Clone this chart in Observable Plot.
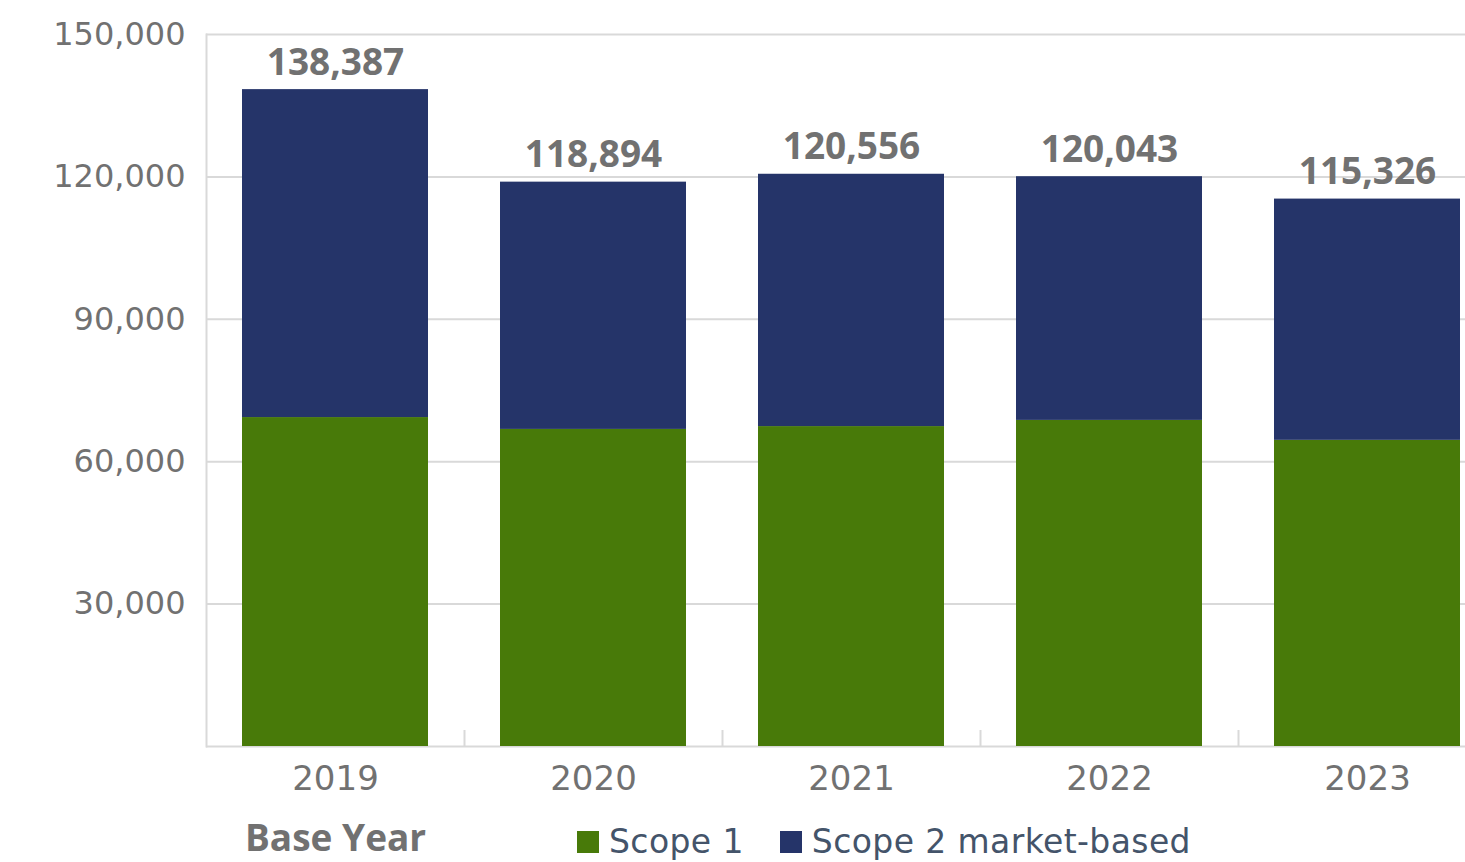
<!DOCTYPE html>
<html>
<head>
<meta charset="utf-8">
<script src="https://cdn.jsdelivr.net/npm/d3@7"></script>
<script src="https://cdn.jsdelivr.net/npm/@observablehq/plot@0.6"></script>
<style>
  html, body { margin: 0; padding: 0; background: #fff; overflow: hidden; }
  #wrap { position: relative; width: 1465px; height: 862px; overflow: hidden; }
  #chart svg { display: block; overflow: hidden; max-width: none !important; height: 810px !important; width: 1497px !important; }
  #baseyear { position: absolute; left: 245px; top: 811px; line-height: normal;
    font-family: "Open Sans", sans-serif; font-weight: 700; font-size: 37px; color: #717171; white-space: nowrap; }
  #legend { position: absolute; left: 577px; top: 822px; height: 40px; display: flex; align-items: center; gap: 36px; }
  .item { display: flex; align-items: center; gap: 10px; font-family: "DejaVu Sans", sans-serif; font-size: 33px;
    letter-spacing: 0.4px; line-height: 40px; color: #44546a; white-space: nowrap; }
  .sw { width: 22px; height: 22px; display: inline-block; }
</style>
</head>
<body>
<div id="wrap">
  <div id="chart"></div>
  <div id="baseyear">Base Year</div>
  <div id="legend"></div>
</div>
<script>
const years = ["2019", "2020", "2021", "2022", "2023"];
const seriesNames = ["Scope 1", "Scope 2 market-based"];
const seriesColors = ["#487a09", "#253469"];
const scope1 = [69300, 66800, 67400, 68700, 64500];
const scope2 = [69087, 52094, 53156, 51343, 50826];
const totals = [138387, 118894, 120556, 120043, 115326];
const yTicks = [30000, 60000, 90000, 120000, 150000];

const rows = [];
years.forEach((yr, i) => {
  rows.push({year: yr, series: seriesNames[0], value: scope1[i]});
  rows.push({year: yr, series: seriesNames[1], value: scope2[i]});
});
const totalRows = years.map((yr, i) => ({year: yr, total: totals[i]}));
const fmt = d3.format(",");

const chart = Plot.plot({
  width: 1497,
  height: 810,
  marginTop: 34,
  marginBottom: 64,
  marginLeft: 206,
  marginRight: 1,
  style: {fontFamily: "DejaVu Sans, sans-serif", background: "transparent", maxWidth: "none"},
  x: {domain: years, paddingInner: 0.279, paddingOuter: 0.1395, label: null},
  y: {domain: [0, 150000], label: null},
  color: {domain: seriesNames, range: seriesColors},
  marks: [
    Plot.gridY(yTicks, {stroke: "#d9d9d9", strokeOpacity: 1, strokeWidth: 2}),
    Plot.frame({anchor: "left", stroke: "#d9d9d9", strokeWidth: 2}),
    Plot.ruleY([0], {stroke: "#d9d9d9", strokeWidth: 2}),
    Plot.ruleX(years.slice(1), {x: d => d, dx: -129, insetTop: 696, stroke: "#d9d9d9", strokeWidth: 2}),
    Plot.barY(rows, {x: "year", y: "value", fill: "series"}),
    Plot.text(totalRows, {x: "year", y: "total", text: d => fmt(d.total), lineAnchor: "bottom", dy: -15,
      fontSize: 37, fontWeight: "bold", fontFamily: "Open Sans, sans-serif", fill: "#717171"}),
    Plot.axisY(yTicks, {tickSize: 0, tickPadding: 21, tickFormat: fmt, fontSize: 32, fill: "#717171",
      fontFamily: "DejaVu Sans, sans-serif", label: null}),
    Plot.axisX({tickSize: 0, tickPadding: 19, fontSize: 34, fill: "#717171",
      fontFamily: "DejaVu Sans, sans-serif", label: null})
  ]
});
document.getElementById("chart").appendChild(chart);

const legend = document.getElementById("legend");
seriesNames.forEach((name, i) => {
  const it = document.createElement("div");
  it.className = "item";
  const sw = document.createElement("span");
  sw.className = "sw";
  sw.style.background = seriesColors[i];
  const tx = document.createElement("span");
  tx.textContent = name;
  it.appendChild(sw);
  it.appendChild(tx);
  legend.appendChild(it);
});
</script>
</body>
</html>
